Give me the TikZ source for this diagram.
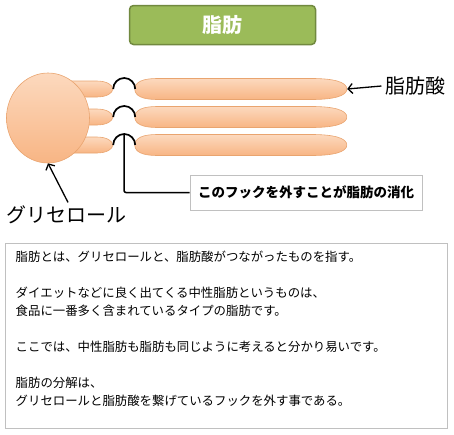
\documentclass[tikz,border=0pt]{standalone}
\usepackage{fontspec}
\setmainfont{Noto Sans CJK JP}
\usetikzlibrary{arrows.meta, positioning, calc, shapes.geometric}
\definecolor{fatpeach}{HTML}{F8B584}
\definecolor{fatpeachlight}{HTML}{FCD9BE}
\definecolor{fatpeachborder}{HTML}{E9A46F}
\definecolor{titlegreen}{HTML}{9BBB59}
\definecolor{titlegreenborder}{HTML}{71893F}
\definecolor{boxgray}{HTML}{C0C0C0}

\begin{document}
\begin{tikzpicture}[x=1pt, y=-1pt, >=Latex,
    fatfill/.style={draw=fatpeachborder, line width=0.6pt,
      top color=fatpeachlight, bottom color=fatpeach},
    slot/.style={inner sep=0pt},
    hook/.style={line width=1.7pt, black},
    pointer/.style={line width=1.3pt, -{Straight Barb[length=4.5pt, width=10pt]}}]
  \useasboundingbox (0,0) rectangle (454,434);

  % title
  \node[draw=titlegreenborder, line width=1.5pt, fill=titlegreen, rounded corners=4pt,
    minimum width=186pt, minimum height=39pt, text=white,
    font=\bfseries\fontsize{20}{24}\selectfont] (title) at (222.5,25) {脂肪};

  % fatty acids and the stubs behind the glycerol
  \foreach \i/\y in {1/89,2/117,3/145} {
    \node[slot, minimum width=52pt, minimum height=16pt] (stub\i) at (87,\y) {};
    \node[slot, minimum width=212pt, minimum height=21pt] (acid\i) at (241,\y) {};
    \shadedraw[fatfill] (stub\i.west) .. controls +(0,-5) and +(-6,0) .. ++(10,-8)
      -- ++(26,0) .. controls +(10,0) and +(0,-4) .. ++(16,8)
      .. controls +(0,4) and +(10,0) .. ++(-16,8) -- ++(-26,0)
      .. controls +(-6,0) and +(0,5) .. cycle;
    \shadedraw[fatfill] (acid\i.west) .. controls +(0,-7) and +(-14,0) .. ++(22,-10.5)
      -- ++(155,0) .. controls +(22,0) and +(0,-7) .. ++(35,10.5)
      .. controls +(0,7) and +(22,0) .. ++(-35,10.5) -- ++(-155,0)
      .. controls +(-14,0) and +(0,7) .. cycle;
  }
  \node[ellipse, inner sep=0pt, fatfill, minimum width=83pt, minimum height=90pt]
    (glycerol) at (48,118) {};

  % hooks
  \foreach \i in {1,2,3}
    \draw[hook] (stub\i.east) arc[start angle=180, end angle=0, radius=11pt];
  \coordinate (hooktop) at ($(stub3.east)!0.5!(acid3.west)+(0,-11)$);

  \node[draw=boxgray, fill=white, line width=0.8pt, minimum width=232pt, minimum height=35pt,
    font=\bfseries\fontsize{13.5}{16}\selectfont] (unhook) at (306,192.5)
    {このフックを外すことが脂肪の消化};
  \draw[line width=1.5pt, rounded corners=2pt] (hooktop) |- (unhook.west);

  % labels
  \node[font=\fontsize{20}{24}\selectfont] (acidlabel) at (415,86) {脂肪酸};
  \draw[pointer] (acidlabel.west) -- (acid1.east);

  \node[font=\fontsize{20}{24}\selectfont] (glylabel) at (66,215) {グリセロール};
  \draw[pointer] ([xshift=2pt]glylabel.north) -- (glycerol.south);

  % notes
  \node[draw=boxgray, line width=1pt, minimum width=442pt, minimum height=185pt]
    (notebox) at (226,335.5) {};
  \node[anchor=north west, align=left, inner sep=0pt, font=\fontsize{12.4}{18}\selectfont]
    (notes) at ([shift={(11,8)}]notebox.north west)
    {脂肪とは、グリセロールと、脂肪酸がつながったものを指す。\\[18pt]
     ダイエットなどに良く出てくる中性脂肪というものは、\\
     食品に一番多く含まれているタイプの脂肪です。\\[18pt]
     ここでは、中性脂肪も脂肪も同じように考えると分かり易いです。\\[18pt]
     脂肪の分解は、\\
     グリセロールと脂肪酸を繋げているフックを外す事である。};
\end{tikzpicture}
\end{document}
